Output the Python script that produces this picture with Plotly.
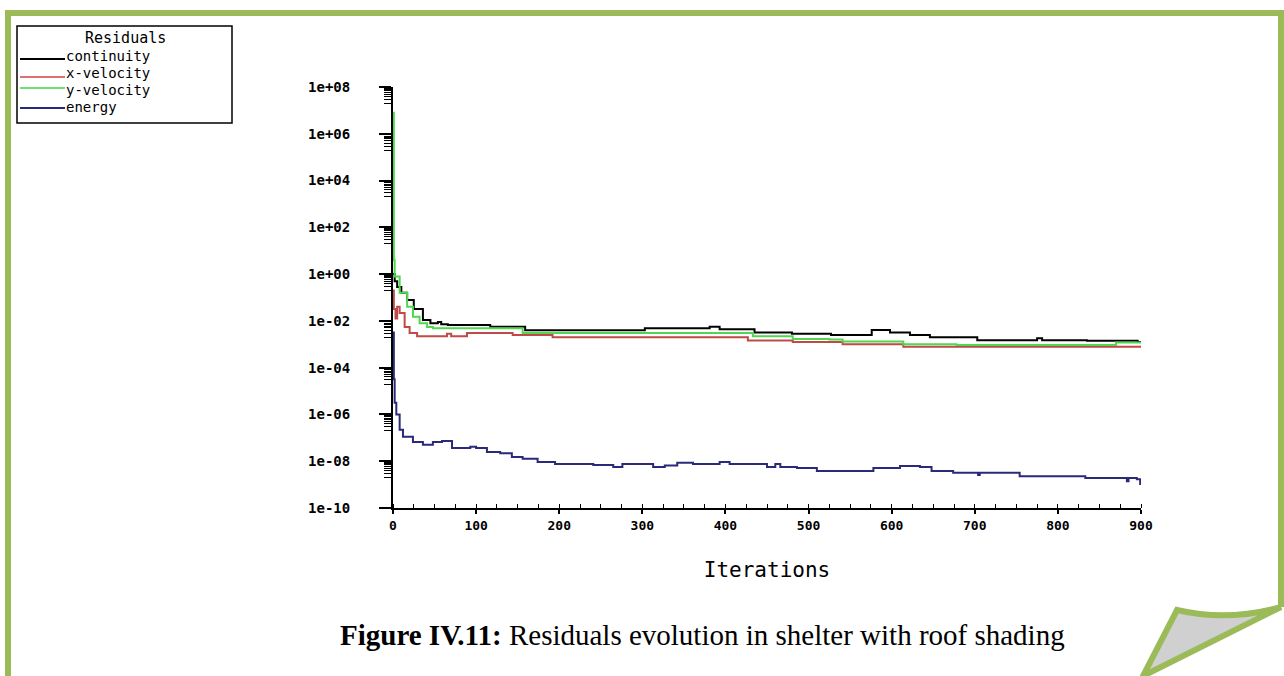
import plotly.graph_objects as go

W, H = 1284, 676

# ---------------- data ----------------
cont_it = [0, 2, 5, 10, 17, 25, 36, 45, 54, 58, 66, 117, 159, 303, 381, 393, 435, 480, 527,
           576, 598, 622, 646, 703, 775, 781, 835, 896, 900]
cont_val = [1.0, 0.5, 0.28, 0.16, 0.079, 0.032, 0.011, 7.9e-3, 8.9e-3, 7.1e-3, 6.6e-3, 5.6e-3,
            4.0e-3, 4.8e-3, 5.6e-3, 4.4e-3, 3.2e-3, 2.8e-3, 2.5e-3, 4.1e-3, 3.2e-3, 2.5e-3,
            2.0e-3, 1.5e-3, 1.8e-3, 1.5e-3, 1.4e-3, 1.26e-3, 1.26e-3]

xvel_it = [0, 1, 3, 5, 8, 14, 20, 29, 65, 70, 89, 144, 192, 427, 481, 541, 614, 900]
xvel_val = [0.2, 0.032, 0.0126, 0.04, 0.022, 5.5e-3, 3.0e-3, 2.2e-3, 2.8e-3, 2.2e-3, 3.0e-3,
            2.5e-3, 2.0e-3, 1.45e-3, 1.26e-3, 1.0e-3, 7.9e-4, 7.9e-4]

yvel_it = [0, 1, 2, 8, 17, 24, 32, 41, 48, 156, 433, 481, 525, 541, 614, 678, 870, 900]
yvel_val = [8e6, 4.0, 0.8, 0.16, 0.04, 0.015, 7.9e-3, 5.5e-3, 4.8e-3, 3.0e-3, 2.2e-3, 1.7e-3,
            1.6e-3, 1.3e-3, 1.0e-3, 9.3e-4, 1.2e-3, 1.2e-3]

energy_it = [0, 1, 2, 4, 8, 12, 24, 36, 48, 59, 71, 93, 100, 113, 129, 143, 156, 174, 195, 241,
             265, 276, 313, 327, 342, 361, 393, 405, 450, 460, 466, 486, 510, 578, 610, 634, 648,
             674, 704, 706, 754, 833, 883, 885, 895, 899, 900]
energy_val = [3.2e-3, 3.2e-5, 3.2e-6, 1.0e-6, 2.2e-7, 1.1e-7, 6.6e-8, 5.0e-8, 6.6e-8, 7.4e-8,
              3.7e-8, 4.2e-8, 3.7e-8, 2.5e-8, 2.2e-8, 1.5e-8, 1.26e-8, 9.3e-9, 7.6e-9, 6.9e-9,
              5.6e-9, 7.6e-9, 5.6e-9, 6.6e-9, 8.5e-9, 7.6e-9, 9.3e-9, 7.6e-9, 5.6e-9, 7.6e-9,
              5.6e-9, 5.1e-9, 3.8e-9, 5.1e-9, 6.3e-9, 5.6e-9, 3.8e-9, 3.2e-9, 2.6e-9, 3.2e-9,
              2.3e-9, 1.9e-9, 1.4e-9, 1.9e-9, 1.7e-9, 1.07e-9, 1.07e-9]

series_names = ["continuity", "x-velocity", "y-velocity", "energy"]
series_colors = ["#000000", "#c04a48", "#4fd84f", "#2a2a78"]
legend_colors = ["#000000", "#e07070", "#70e070", "#2a2a78"]

x_ticks = [0, 100, 200, 300, 400, 500, 600, 700, 800, 900]
y_exps = [8, 6, 4, 2, 0, -2, -4, -6, -8, -10]
y_ticktext = ["1e+08", "1e+06", "1e+04", "1e+02", "1e+00",
              "1e-02", "1e-04", "1e-06", "1e-08", "1e-10"]

caption_bold = "Figure IV.11:"
caption_rest = " Residuals evolution in shelter with roof shading"
x_title = "Iterations"
legend_title = "Residuals"

# ---------------- helpers ----------------
def px(x):
    return x / W

def py(y):
    return 1 - y / H

PIX = "DejaVu Sans Mono"

fig = go.Figure()
for its, vals, name, col in zip([cont_it, xvel_it, yvel_it, energy_it],
                                [cont_val, xvel_val, yvel_val, energy_val],
                                series_names, series_colors):
    fig.add_trace(go.Scatter(x=its, y=vals, mode="lines", name=name,
                             line=dict(color=col, width=2, shape="hv"),
                             showlegend=False, hoverinfo="skip"))

y_tickvals = [10.0 ** e for e in y_exps]
y_minor = [k * 10.0 ** (e - 1) for e in y_exps if e > -10 for k in range(2, 10)]

fig.update_layout(
    width=W, height=H,
    margin=dict(l=0, r=0, t=0, b=0, pad=0, autoexpand=False),
    showlegend=False,
    paper_bgcolor="white", plot_bgcolor="white",
    xaxis=dict(
        domain=[px(393), px(1141)], range=[0, 900], automargin=False,
        tickmode="array", tickvals=x_ticks, ticktext=[str(v) for v in x_ticks],
        ticks="outside", ticklen=4, tickwidth=1.5, tickcolor="black",
        showline=True, linecolor="black", linewidth=2,
        showgrid=False, zeroline=False,
        tickfont=dict(family=PIX, size=13, color="black", weight="bold"),
        minor=dict(tickmode="linear", tick0=0, dtick=25, ticks="inside",
                   ticklen=4, tickwidth=1.2, tickcolor="black", showgrid=False),
        title=dict(text=x_title, font=dict(family=PIX, size=21, color="black"), standoff=31),
    ),
    yaxis=dict(
        type="log", domain=[py(508), py(87)], range=[-10, 8], automargin=False,
        tickmode="array", tickvals=y_tickvals, ticktext=y_ticktext,
        ticks="outside", ticklen=12, tickwidth=2, tickcolor="black",
        ticklabelstandoff=26,
        showline=True, linecolor="black", linewidth=2,
        showgrid=False, zeroline=False,
        tickfont=dict(family=PIX, size=14, color="black", weight="bold"),
        minor=dict(tickmode="array", tickvals=y_minor, ticks="outside",
                   ticklen=7, tickwidth=1.2, tickcolor="black", showgrid=False),
    ),
)

shapes = []
annos = []

# legend box
shapes.append(dict(type="rect", xref="paper", yref="paper",
                   x0=px(17), x1=px(232), y0=py(123), y1=py(26),
                   line=dict(color="black", width=1.5), fillcolor="white"))
annos.append(dict(xref="paper", yref="paper", x=px(125), y=py(38), text=legend_title,
                  showarrow=False, xanchor="center", yanchor="middle",
                  font=dict(family=PIX, size=15, color="black")))
line_ys = [59, 77, 88, 108]
text_ys = [56, 73, 90, 107]
for name, col, ly, ty in zip(series_names, legend_colors, line_ys, text_ys):
    shapes.append(dict(type="line", xref="paper", yref="paper",
                       x0=px(20), x1=px(65), y0=py(ly), y1=py(ly),
                       line=dict(color=col, width=2)))
    annos.append(dict(xref="paper", yref="paper", x=px(64), y=py(ty), text=name,
                      showarrow=False, xanchor="left", yanchor="middle",
                      font=dict(family=PIX, size=14, color="black")))

# green page frame
GREEN = "#9bbb59"
def path(points, close=False):
    s = "M " + " L ".join(f"{px(x):.5f},{py(y):.5f}" for x, y in points)
    return s + (" Z" if close else "")

shapes.append(dict(type="path", xref="paper", yref="paper",
                   path=path([(8, 676), (8, 13), (1281, 13), (1281, 607)]),
                   line=dict(color=GREEN, width=6)))
curl = (f"M {px(1281):.5f},{py(607):.5f} "
        f"Q {px(1228):.5f},{py(622):.5f} {px(1177):.5f},{py(610):.5f} "
        f"L {px(1143):.5f},{py(676):.5f} Z")
shapes.append(dict(type="path", xref="paper", yref="paper", path=curl,
                   fillcolor="#d0d0d0", line=dict(color=GREEN, width=6)))

# caption
annos.append(dict(xref="paper", yref="paper", x=px(702), y=py(635),
                  text=f"<b>{caption_bold}</b>{caption_rest}",
                  showarrow=False, xanchor="center", yanchor="middle",
                  font=dict(family="Liberation Serif", size=29, color="black")))

fig.update_layout(shapes=shapes, annotations=annos)
fig.write_html("out.html")
